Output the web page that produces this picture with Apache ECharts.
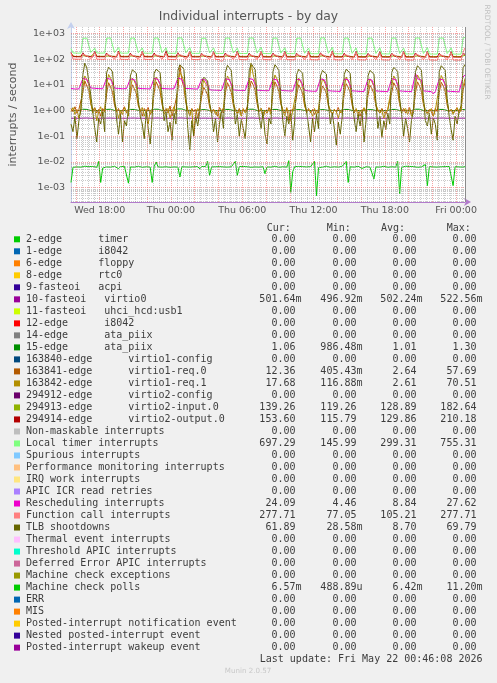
<!DOCTYPE html>
<html><head><meta charset="utf-8">
<script src="https://cdn.jsdelivr.net/npm/echarts@6/dist/echarts.min.js"></script>
<style>html,body{margin:0;padding:0;background:#f0f0f0;}#c{width:497px;height:683px;}</style>
</head><body><div id="c"></div>
<script>
// ---------- texts ----------
const chartTitle = 'Individual interrupts - by day';
const yAxisName = 'interrupts / second';
const lastUpdate = 'Last update: Fri May 22 00:46:08 2026';
const footer = 'Munin 2.0.57';
const sideText = 'RRDTOOL / TOBI OETIKER';
const headers = ['Cur:', 'Min:', 'Avg:', 'Max:'];

// ---------- axes ----------
const startTime = '2026-05-20T15:35:00';
const endTime = '2026-05-22T00:45:00';
const stepMinutes = 10;
const xTickTimes = ['2026-05-20T18:00:00','2026-05-21T00:00:00','2026-05-21T06:00:00','2026-05-21T12:00:00','2026-05-21T18:00:00','2026-05-22T00:00:00'];
const xTickLabels = ['Wed 18:00','Thu 00:00','Thu 06:00','Thu 12:00','Thu 18:00','Fri 00:00'];
const yTickValues = [1e-3, 1e-2, 1e-1, 1, 10, 100, 1000];
const yTickLabels = ['1e-03','1e-02','1e-01','1e+00','1e+01','1e+02','1e+03'];
const yMin = 2.78e-4, yMax = 1758;

// ---------- legend ----------
const legendLabels = [
'2-edge      timer','1-edge      i8042','6-edge      floppy','8-edge      rtc0','9-fasteoi   acpi',
'10-fasteoi   virtio0','11-fasteoi   uhci_hcd:usb1','12-edge      i8042','14-edge      ata_piix','15-edge      ata_piix',
'163840-edge      virtio1-config','163841-edge      virtio1-req.0','163842-edge      virtio1-req.1','294912-edge      virtio2-config','294913-edge      virtio2-input.0',
'294914-edge      virtio2-output.0','Non-maskable interrupts','Local timer interrupts','Spurious interrupts','Performance monitoring interrupts',
'IRQ work interrupts','APIC ICR read retries','Rescheduling interrupts','Function call interrupts','TLB shootdowns',
'Thermal event interrupts','Threshold APIC interrupts','Deferred Error APIC interrupts','Machine check exceptions','Machine check polls',
'ERR','MIS','Posted-interrupt notification event','Nested posted-interrupt event','Posted-interrupt wakeup event'];
const legendColors = [
'#00CC00','#0066B3','#FF8000','#FFCC00','#330099','#990099','#CCFF00','#FF0000','#808080','#008F00',
'#00487D','#B35A00','#B38F00','#6B006B','#8FB300','#B30000','#BEBEBE','#80FF80','#80C9FF','#FFC080',
'#FFE680','#AA80FF','#EE00CC','#FF8080','#666600','#FFBFFF','#00FFCC','#CC6699','#999900','#00CC00',
'#0066B3','#FF8000','#FFCC00','#330099','#990099'];
const curValues = ['0.00','0.00','0.00','0.00','0.00','501.64m','0.00','0.00','0.00','1.06','0.00','12.36','17.68','0.00','139.26','153.60','0.00','697.29','0.00','0.00','0.00','0.00','24.09','277.71','61.89','0.00','0.00','0.00','0.00','6.57m','0.00','0.00','0.00','0.00','0.00'];
const minValues = ['0.00','0.00','0.00','0.00','0.00','496.92m','0.00','0.00','0.00','986.48m','0.00','405.43m','116.88m','0.00','119.26','115.79','0.00','145.99','0.00','0.00','0.00','0.00','4.46','77.05','28.58m','0.00','0.00','0.00','0.00','488.89u','0.00','0.00','0.00','0.00','0.00'];
const avgValues = ['0.00','0.00','0.00','0.00','0.00','502.24m','0.00','0.00','0.00','1.01','0.00','2.64','2.61','0.00','128.89','129.86','0.00','299.31','0.00','0.00','0.00','0.00','8.84','105.21','8.70','0.00','0.00','0.00','0.00','6.42m','0.00','0.00','0.00','0.00','0.00'];
const maxValues = ['0.00','0.00','0.00','0.00','0.00','522.56m','0.00','0.00','0.00','1.30','0.00','57.69','70.51','0.00','182.64','210.18','0.00','755.31','0.00','0.00','0.00','0.00','27.62','277.71','69.79','0.00','0.00','0.00','0.00','11.20m','0.00','0.00','0.00','0.00','0.00'];

// ---------- series values (10-minute samples) ----------
const virtio0 = [
0.5,0.5,0.501,0.5,0.499,0.5,
0.505,0.515,0.51,0.503,0.5,0.5,0.5,0.499,0.5,0.501,0.5,0.5,
0.504,0.512,0.508,0.502,0.5,0.5,0.501,0.5,0.5,0.499,0.5,0.5,
0.505,0.514,0.509,0.503,0.5,0.5,0.5,0.5,0.4969,0.5,0.501,0.5,
0.506,0.516,0.51,0.503,0.501,0.5,0.5,0.499,0.5,0.5,0.5,0.5,
0.508,0.5226,0.512,0.504,0.5,0.5,0.5,0.5,0.499,0.5,0.501,0.5,
0.503,0.51,0.506,0.502,0.5,0.5,0.5,0.5,0.5,0.499,0.5,0.5,
0.505,0.515,0.51,0.503,0.5,0.5,0.501,0.5,0.5,0.5,0.499,0.5,
0.506,0.517,0.511,0.504,0.5,0.5,0.5,0.499,0.5,0.5,0.5,0.501,
0.505,0.514,0.509,0.503,0.5,0.5,0.5,0.5,0.499,0.5,0.5,0.5,
0.503,0.511,0.507,0.502,0.5,0.5,0.501,0.5,0.5,0.5,0.499,0.5,
0.504,0.512,0.508,0.502,0.5,0.5,0.5,0.499,0.5,0.5,0.5,0.5,
0.505,0.513,0.509,0.503,0.5,0.5,0.5,0.5,0.5,0.499,0.5,0.501,
0.504,0.511,0.507,0.502,0.5,0.5,0.5,0.5,0.499,0.5,0.5,0.5,
0.505,0.515,0.51,0.503,0.5,0.5,0.501,0.5,0.5,0.5,0.499,0.5,
0.506,0.516,0.51,0.503,0.5,0.5,0.5,0.499,0.5,0.5,0.5,0.5,
0.505,0.514,0.509,0.503,0.5,0.5,0.5,0.5,0.5,0.499,0.5,0.5,
0.505,0.5016];
const ataPiix15 = [
1.0,1.01,0.99,1.0,1.0,1.0,
1.12,1.2,1.1,1.05,1.0,1.0,1.01,1.0,0.99,1.0,1.0,1.0,
1.1,1.18,1.12,1.04,1.0,1.0,1.0,0.99,1.0,1.01,1.0,1.0,
1.1,1.15,1.1,1.04,1.01,1.0,1.0,1.0,0.99,1.0,1.0,1.0,
1.12,1.2,1.12,1.05,1.0,1.0,1.01,1.0,1.0,0.99,1.0,1.0,
1.15,1.3,1.15,1.06,1.01,1.0,1.0,1.0,0.99,1.0,1.0,1.0,
1.08,1.12,1.08,1.03,1.0,1.0,1.0,0.99,1.0,1.0,0.986,1.0,
1.1,1.18,1.1,1.04,1.0,1.0,1.0,1.0,0.99,1.0,1.0,1.0,
1.12,1.22,1.12,1.05,1.0,1.0,1.01,1.0,1.0,0.99,1.0,1.0,
1.1,1.2,1.1,1.04,1.0,1.0,1.0,0.99,1.0,1.0,1.0,1.0,
1.08,1.15,1.08,1.03,1.0,1.0,1.0,1.0,0.99,1.0,1.0,1.0,
1.08,1.14,1.08,1.03,1.0,1.0,1.0,1.0,1.0,0.99,1.0,1.0,
1.1,1.16,1.1,1.04,1.0,1.0,1.0,0.99,1.0,1.0,1.0,1.0,
1.08,1.14,1.08,1.03,1.0,1.0,1.0,1.0,0.99,1.0,1.0,1.0,
1.1,1.18,1.1,1.04,1.0,1.0,1.01,1.0,1.0,0.99,1.0,1.0,
1.12,1.2,1.12,1.05,1.0,1.0,1.0,1.0,0.99,1.0,1.0,1.0,
1.1,1.18,1.1,1.04,1.0,1.0,1.0,0.99,1.0,1.0,1.0,1.0,
1.1,1.06];
const virtio1Req0 = [
1.2,0.9,1.4,0.8,1.1,1.3,
5,14,9,6,1.8,1.0,1.3,0.8,1.1,0.6,1.2,0.9,
4.5,12,8,5,1.6,0.9,1.2,0.7,1.0,1.4,0.8,1.1,
4,10,7,4.5,1.5,1.1,0.6,1.2,0.9,1.3,0.7,1.0,
5,13,9,5.5,1.7,0.9,1.2,0.8,1.5,0.6,1.1,1.3,
6,57.69,15,8,2,1.0,0.7,1.2,0.9,1.1,0.5,1.2,
3.5,8,6,4,1.4,0.8,1.1,0.9,0.6,1.3,1.0,0.8,
5,12,8,5,1.6,1.0,0.8,1.2,0.7,1.1,0.9,1.4,
5.5,14,10,6,1.8,0.9,1.2,0.6,1.0,0.8,1.3,0.9,
5,13,9,5.5,1.7,1.1,0.8,1.3,0.405,1.0,0.9,1.2,
4,10,7,4.5,1.5,0.9,1.2,0.8,1.1,0.7,1.0,0.8,
4,9,7,4.5,1.5,1.0,0.7,1.1,0.9,1.3,0.8,1.0,
4.5,11,8,5,1.6,0.8,1.1,0.9,0.6,1.0,1.2,0.9,
4,9.5,7,4.5,1.5,1.0,0.8,1.2,0.9,0.7,1.1,1.0,
5,12,8.5,5.5,1.7,0.9,1.2,0.8,1.0,1.3,0.7,1.1,
5,13,9,5.5,1.7,1.0,0.8,1.1,0.9,0.6,1.2,0.9,
5,12.5,9,5.5,1.6,0.9,1.1,0.8,1.0,1.2,0.9,1.1,
6,12.36];
const virtio1Req1 = [
0.9,1.3,0.7,1.1,0.5,1.0,
8,22,16,10,2,0.8,1.2,0.4,0.9,1.4,0.6,1.1,
10,25,18,12,2.2,1.1,0.5,1.0,0.7,1.3,0.9,0.6,
7,18,14,9,1.8,0.9,1.3,0.6,1.1,0.3,1.0,0.8,
9,20,15,10,2,0.7,1.0,1.2,0.5,0.9,1.4,0.7,
12,30,22,14,2.5,1.0,0.6,1.1,0.117,0.8,1.2,0.9,
6,15,11,8,1.6,0.8,1.1,0.7,1.0,0.5,0.9,1.3,
9,22,16,10,2,1.1,0.7,1.0,0.6,1.2,0.8,1.0,
10,70.51,25,13,2.4,0.9,1.2,0.5,1.0,0.8,1.1,0.7,
9,24,17,11,2.1,1.0,0.6,1.2,0.9,0.4,1.0,1.1,
7,18,13,9,1.8,0.8,1.1,0.9,0.6,1.2,0.7,1.0,
7,17,13,8.5,1.7,1.0,0.7,1.1,0.9,0.5,1.0,0.8,
8,20,14,9.5,1.9,0.9,1.2,0.6,1.0,0.8,1.3,0.7,
7,17,13,8.5,1.7,1.1,0.8,1.0,0.5,0.9,1.1,1.0,
9,22,16,10,2,0.8,1.0,1.2,0.7,1.1,0.6,0.9,
10,24,17,11,2.2,1.0,0.7,0.9,1.2,0.6,1.0,1.1,
9,23,16,10.5,2.1,0.9,1.1,0.7,1.0,1.3,0.8,1.0,
8,17.68];
const virtio2Input = [
150,128,126,129,127,128,
135,132,130,128,127,126,175,129,127,128,126,128,
136,131,130,129,127,126,180,128,127,127,126,128,
134,132,129,128,126,125,172,128,126,127,125,127,
137,133,131,129,127,126,178,128,127,128,126,127,
138,132,130,128,126,125,182,127,126,127,125,127,
135,131,129,128,126,124,170,127,126,126,125,126,
136,132,130,128,126,125,176,127,126,127,125,127,
135,131,129,127,126,124,180,127,125,126,124,126,
137,132,130,128,126,125,174,127,126,126,125,126,
134,131,129,127,125,124,172,126,125,126,124,126,
138,133,130,128,126,124,182,127,125,126,124,126,
135,131,129,127,125,123,175,126,125,125,124,125,
134,131,129,127,125,123,172,126,124,125,123,125,
136,132,130,128,125,124,178,126,124,125,119,125,
137,132,130,128,126,124,176,126,125,125,124,125,
135,131,129,127,125,123,172,126,124,125,123,125,
130,139.26];
const virtio2Output = [
180,124,121,123,120,122,
175,135,128,125,122,120,200,124,121,123,120,122,
170,134,128,124,121,120,205,123,121,122,120,122,
168,133,127,124,121,119,195,123,120,122,119,121,
172,135,128,125,122,120,210,123,121,122,120,121,
176,136,129,125,121,119,200,122,120,121,119,121,
165,133,127,124,121,119,195,122,120,121,116,121,
170,134,128,124,121,119,205,122,120,121,119,120,
168,133,127,123,120,118,198,121,119,120,118,120,
172,135,128,124,120,118,202,121,119,120,118,120,
166,132,127,123,120,118,195,121,119,120,118,120,
175,136,129,124,120,118,208,121,119,120,118,119,
168,133,127,123,119,117,200,120,118,119,117,119,
166,132,126,123,119,117,196,120,118,119,117,119,
170,134,128,123,119,117,203,120,118,119,117,119,
172,135,128,124,119,117,200,120,118,119,117,119,
168,133,127,123,119,117,195,120,118,119,117,119,
160,153.6];
const localTimer = [
255,172,168,170,166,169,
640,662,655,648,180,170,265,172,168,170,166,171,
650,668,660,652,178,168,280,170,166,169,168,170,
645,665,658,650,176,167,270,169,165,168,166,168,
655,670,662,655,175,166,275,168,164,167,165,167,
660,675,668,658,174,165,285,167,163,166,164,166,
640,660,652,645,172,164,270,166,162,165,163,165,
650,665,660,650,172,163,265,165,161,164,162,164,
655,668,660,652,170,162,290,164,160,163,161,163,
650,665,658,650,170,161,275,163,159,162,160,162,
645,662,655,648,168,160,265,162,158,161,159,161,
660,755,670,655,168,159,285,161,157,160,158,160,
650,665,660,650,166,158,270,160,156,159,157,159,
645,662,655,648,165,157,275,159,155,158,156,158,
650,668,660,650,165,156,265,158,154,157,155,157,
655,670,662,652,164,155,280,157,153,156,154,156,
648,665,658,650,163,154,270,156,152,155,146,155,
650,697.29];
const rescheduling = [
7.2,7.0,6.8,7.1,6.9,7.0,
17.5,16.5,16.0,15.5,7.5,7.0,7.3,6.9,7.1,6.8,7.0,7.2,
18.0,16.8,16.2,15.8,7.4,7.0,7.2,6.8,7.0,6.9,7.1,6.9,
17.0,16.2,15.8,15.2,7.3,6.9,7.1,6.8,7.0,6.7,6.9,7.0,
17.8,16.6,16.0,15.5,7.2,6.8,7.0,6.7,6.9,6.8,7.0,6.8,
18.2,17.0,16.3,15.8,7.2,6.8,7.1,6.7,6.9,6.6,6.8,6.9,
16.5,15.8,15.2,14.8,6.4,6.1,6.2,6.0,6.1,5.9,6.0,6.1,
17.2,16.3,15.8,15.2,6.3,6.0,6.1,5.9,6.0,5.8,6.0,5.9,
17.5,16.5,16.0,15.5,6.2,5.9,6.0,5.8,5.9,5.7,5.9,5.8,
16.8,16.0,15.5,15.0,6.1,5.8,5.9,5.7,5.8,5.6,5.7,5.8,
16.5,15.8,15.2,14.8,6.0,5.7,5.8,5.5,5.6,5.4,5.6,5.5,
17.0,16.2,15.6,15.0,5.9,5.6,5.7,5.5,5.6,5.4,5.5,5.6,
16.8,16.0,15.5,15.0,5.8,5.6,5.7,5.4,5.5,5.3,5.5,5.4,
16.5,15.8,15.2,14.8,5.8,5.5,5.6,5.4,5.5,5.3,5.4,5.5,
17.2,16.3,15.8,15.2,5.8,5.5,5.6,5.3,5.5,5.2,5.4,5.3,
27.62,17.0,16.2,15.5,5.8,5.4,5.6,5.3,5.4,4.46,5.4,5.3,
16.8,16.0,15.5,15.0,5.7,5.4,5.5,5.3,5.4,5.2,5.3,5.4,
20.0,24.09];
const functionCall = [
170,100,97,99,96,98,
150,142,136,128,100,95,180,99,96,98,95,97,
155,140,135,130,99,94,190,98,95,97,94,96,
148,138,134,127,98,93,185,98,95,96,93,96,
152,141,136,129,98,94,175,97,94,96,93,95,
158,145,138,131,99,93,195,97,94,95,92,95,
150,140,135,128,97,92,180,96,93,95,77.05,94,
153,142,136,129,97,92,185,96,93,94,92,94,
150,140,134,127,96,91,200,95,92,94,91,93,
156,143,137,130,96,91,185,95,92,93,91,93,
150,140,135,128,95,90,180,94,91,93,90,92,
160,146,138,131,95,90,195,94,91,92,90,92,
152,141,136,129,94,89,185,93,90,92,89,91,
150,140,134,127,94,89,180,93,90,91,89,91,
155,142,136,129,93,88,190,92,89,91,88,90,
158,144,137,130,93,88,185,92,89,90,88,90,
150,140,135,128,92,87,180,91,88,90,87,90,
180,277.71];
const tlbShootdowns = [
0.3,0.15,0.6,0.08,0.4,1.2,
25,69.79,45,38,4,0.9,0.2,0.06,0.5,0.3,0.9,0.15,
30,48,40,32,3,0.5,0.12,0.7,0.06,0.4,0.25,1.1,
22,38,35,28,2.5,0.6,0.3,0.08,0.9,0.2,0.05,0.6,
28,40,36,30,3.5,0.4,0.9,0.15,0.35,0.07,0.8,0.3,
35,60,50,40,4,0.2,0.0286,0.4,0.1,0.6,0.25,0.9,
12,20,18,14,2,0.8,0.15,0.5,0.06,0.3,1.0,0.2,
30,57,45,35,3,0.3,0.7,0.1,0.45,0.2,0.08,0.9,
35,67,50,40,3.5,0.6,0.2,0.9,0.12,0.05,0.5,0.3,
32,60,48,36,3,0.4,0.1,0.6,0.3,0.8,0.07,0.4,
25,40,35,28,2.5,0.9,0.25,0.06,0.5,0.15,0.7,0.2,
22,36,32,26,2,0.3,0.8,0.2,0.045,0.35,0.12,0.6,
25,40,36,28,2.8,0.5,0.15,0.7,0.25,0.9,0.06,0.4,
22,36,33,26,2.2,0.2,0.6,0.09,0.4,0.18,0.8,0.3,
30,48,42,33,3,0.7,0.1,0.5,0.2,0.06,0.45,0.9,
32,55,45,36,3.2,0.4,0.25,0.8,0.12,0.5,0.3,0.07,
32,55,46,37,3,0.6,0.18,0.07,0.6,0.3,0.9,1.5,
45,61.89];
const machineCheckPolls = [
0.0016,0.0062,0.0066,0.0064,0.0067,0.0063,0.0065,0.0068,0.0064,0.0066,0.0063,0.0067,0.0065,0.0062,0.0105,0.0016,0.0058,0.0066,0.0064,0.0067,
0.0063,0.0066,0.0068,0.0064,0.0055,0.0066,0.0063,0.0067,0.0065,0.0015,0.0064,0.0067,0.0063,0.0066,0.0068,0.0064,0.0062,0.0066,0.0065,0.0067,
0.0063,0.0016,0.0066,0.0100,0.0064,0.0067,0.0063,0.0066,0.0065,0.0068,0.0062,0.0066,0.0064,0.0067,0.0063,0.0026,0.0065,0.0068,0.0064,0.0066,
0.0063,0.0067,0.0065,0.0062,0.0066,0.0054,0.0067,0.0063,0.0066,0.0105,0.0030,0.0064,0.0067,0.0065,0.0062,0.0066,0.0068,0.0064,0.0067,0.0063,
0.0066,0.0065,0.0068,0.0105,0.0030,0.0066,0.0064,0.0067,0.0063,0.0065,0.0068,0.0062,0.0066,0.0064,0.0067,0.0063,0.0066,0.0065,0.0035,0.0064,
0.0067,0.0063,0.0066,0.0068,0.0064,0.0062,0.0066,0.0065,0.0067,0.0063,0.0112,0.00066,0.0042,0.0066,0.0064,0.0067,0.0063,0.0066,0.0068,0.0064,
0.0062,0.0066,0.0065,0.0105,0.00049,0.0060,0.0067,0.0063,0.0066,0.0068,0.0064,0.0062,0.0066,0.0065,0.0067,0.0063,0.0066,0.0068,0.0064,0.0105,
0.0016,0.0065,0.0067,0.0063,0.0066,0.0068,0.0064,0.0056,0.0066,0.0065,0.0067,0.0063,0.0066,0.0022,0.0064,0.0067,0.0063,0.0066,0.0068,0.0064,
0.0062,0.0066,0.0065,0.0067,0.0063,0.0105,0.00057,0.0062,0.0066,0.0068,0.0064,0.0067,0.0063,0.0066,0.0065,0.0062,0.0066,0.0064,0.0067,0.0080,
0.0012,0.0066,0.0068,0.0064,0.0067,0.0063,0.0066,0.0065,0.0062,0.0066,0.0064,0.0067,0.0063,0.0012,0.0066,0.0068,0.0064,0.0067,0.0063,0.00657];

// legend index -> plotted values (zero-valued rows are not drawable on a log scale)
const plotted = [
  [5, virtio0], [9, ataPiix15], [11, virtio1Req0], [12, virtio1Req1], [14, virtio2Input],
  [15, virtio2Output], [17, localTimer], [22, rescheduling], [23, functionCall],
  [24, tlbShootdowns], [29, machineCheckPolls]
];

// ---------- build ----------
const chart = echarts.init(document.getElementById('c'), null, {renderer: 'canvas'});
const t0 = new Date(startTime).getTime();
const tEnd = new Date(endTime).getTime();
const stepMs = stepMinutes * 60000;

const series = [];
const HOUR = 3600000;
const gridLines = [];
const firstHalf = Math.ceil(t0 / (HOUR / 2)) * (HOUR / 2);
const majorRed = 'rgba(235,90,90,0.55)';
const minorGray = 'rgba(150,150,150,0.5)';
for (let t = firstHalf; t <= tEnd; t += HOUR / 2) {
  const d = new Date(t);
  const isMajor = d.getMinutes() === 0 && d.getHours() % 2 === 0;
  gridLines.push({xAxis: t, lineStyle: {color: isMajor ? majorRed : minorGray, type: [1, 1], width: 1}, label: {show: false}});
}
xTickTimes.forEach((s, i) => {
  gridLines.push({xAxis: new Date(s).getTime(), lineStyle: {color: 'rgba(0,0,0,0)', width: 0},
    label: {show: true, position: 'start', distance: 4, formatter: xTickLabels[i], color: '#555', fontFamily: 'DejaVu Sans', fontSize: 9.5}});
});
for (let e = -4; e <= 3; e++) {
  for (let m = 2; m <= 9; m++) {
    const v = m * Math.pow(10, e);
    if (v > yMin && v < yMax) gridLines.push({yAxis: v, lineStyle: {color: minorGray, type: [1, 1], width: 1}, label: {show: false}});
  }
}
yTickValues.forEach((v, i) => {
  gridLines.push({yAxis: v, lineStyle: {color: majorRed, type: [1, 1], width: 1},
    label: {show: true, position: 'start', distance: 6, formatter: yTickLabels[i], color: '#555', fontFamily: 'DejaVu Sans', fontSize: 9.5}});
});
gridLines.push({xAxis: tEnd, lineStyle: {color: '#8a8a8a', type: 'solid', width: 1}, label: {show: false}});

series.push({
  type: 'line', data: [], z: 1, silent: true, animation: false,
  markLine: {silent: true, precision: 12, symbol: ['none', 'none'], animation: false, data: gridLines}
});

plotted.forEach(([idx, values]) => {
  series.push({
    type: 'line', name: legendLabels[idx], z: 2, silent: true, animation: false,
    showSymbol: false, symbol: 'none',
    lineStyle: {color: legendColors[idx], width: 1},
    itemStyle: {color: legendColors[idx]},
    data: values.map((v, i) => [t0 + i * stepMs, v])
  });
});

// ---------- legend graphic ----------
const graphic = [];
const mono = 'DejaVu Sans Mono';
const txtCol = '#3c3c3c';
const rowY0 = 239.3, rowH = 12.01;
const headerX = [266.7, 326.7, 381, 446.7];
const colEnd = [301.5, 362.5, 422.5, 482.5];
const charW = 6.02;
headers.forEach((h, i) => graphic.push({type: 'text', x: headerX[i], y: 228, silent: true,
  style: {text: h, fontFamily: mono, fontSize: 10, fill: txtCol, textAlign: 'left', textVerticalAlign: 'middle'}}));
const cols = [curValues, minValues, avgValues, maxValues];
legendLabels.forEach((lab, i) => {
  const y = rowY0 + i * rowH;
  graphic.push({type: 'rect', silent: true, shape: {x: 14, y: y - 3, width: 6, height: 6}, style: {fill: legendColors[i]}});
  graphic.push({type: 'text', x: 26, y: y, silent: true,
    style: {text: lab, fontFamily: mono, fontSize: 10, fill: txtCol, textAlign: 'left', textVerticalAlign: 'middle'}});
  cols.forEach((arr, c) => {
    const s = arr[i];
    const hasSuffix = /[a-z]$/i.test(s);
    graphic.push({type: 'text', x: hasSuffix ? colEnd[c] : colEnd[c] - charW, y: y, silent: true,
      style: {text: s, fontFamily: mono, fontSize: 10, fill: txtCol, textAlign: 'right', textVerticalAlign: 'middle'}});
  });
});
graphic.push({type: 'text', x: 482.5, y: 659.5, silent: true,
  style: {text: lastUpdate, fontFamily: mono, fontSize: 10, fill: txtCol, textAlign: 'right', textVerticalAlign: 'middle'}});
graphic.push({type: 'text', x: 248, y: 671.5, silent: true,
  style: {text: footer, fontFamily: 'DejaVu Sans', fontSize: 7.1, fill: '#c8c8c8', textAlign: 'center', textVerticalAlign: 'middle'}});
graphic.push({type: 'text', x: 487, y: 52, rotation: -Math.PI / 2, silent: true,
  style: {text: sideText, fontFamily: 'DejaVu Sans', fontSize: 7.4, fill: '#c0c0c0', textAlign: 'center', textVerticalAlign: 'middle'}});

chart.setOption({
  backgroundColor: '#f0f0f0',
  animation: false,
  title: {text: chartTitle, left: 'center', top: 11, padding: 0,
    textStyle: {fontFamily: 'DejaVu Sans', fontSize: 12.4, fontWeight: 'normal', color: '#555'}},
  grid: {left: 67, right: 32, top: 27, bottom: 481, show: true, backgroundColor: '#ffffff', borderWidth: 0},
  xAxis: {type: 'time', min: t0, max: tEnd,
    axisLine: {show: true, onZero: false, symbol: ['none', 'arrow'], symbolSize: [6, 7], symbolOffset: [0, 6],
      lineStyle: {color: '#b27ccc', width: 1}},
    axisTick: {show: false}, axisLabel: {show: false}, splitLine: {show: false}},
  yAxis: {type: 'log', logBase: 10, min: yMin, max: yMax,
    name: yAxisName, nameLocation: 'middle', nameGap: 52, nameRotate: 90,
    nameTextStyle: {fontFamily: 'DejaVu Sans', fontSize: 11, color: '#555'},
    axisLine: {show: true, symbol: ['none', 'arrow'], symbolSize: [6, 7], symbolOffset: [0, 5],
      lineStyle: {color: '#c4d0ee', width: 1}},
    axisTick: {show: false}, axisLabel: {show: false}, splitLine: {show: false}},
  graphic: graphic,
  series: series
});
</script></body></html>
